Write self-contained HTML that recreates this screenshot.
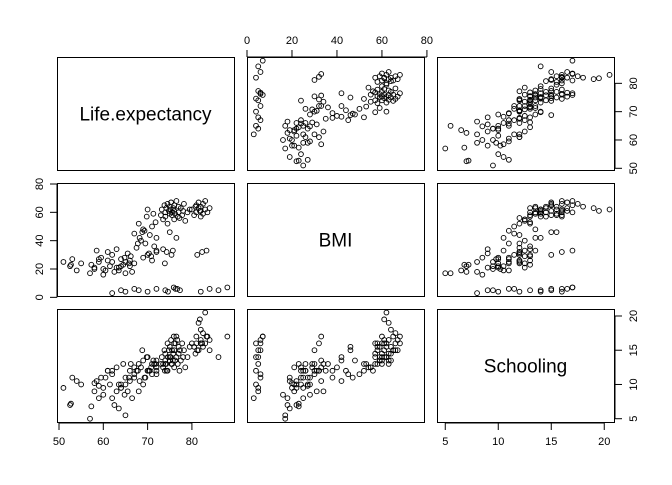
<!DOCTYPE html>
<html><head><meta charset="utf-8"><style>
html,body{margin:0;padding:0;background:#fff;}
svg text{font-family:"Liberation Sans",sans-serif;fill:#000;}
</style></head><body>
<svg id="chart" width="672" height="480" viewBox="0 0 672 480" xmlns="http://www.w3.org/2000/svg"></svg>
<script>
const varNames = ["Life.expectancy","BMI","Schooling"];
const lifeTicks = [50,60,70,80];
const bmiTicks = [0,20,40,60,80];
const schoolTicks = [5,10,15,20];
const life = [51,52.5,53,54,55,57,58,58.5,59,59.5,60,60,61,61.5,62,62.5,63,63,63.5,64,64.5,65,65,65.5,66,66,66.5,67,52.7,58,59,60.5,62,63.5,64.8,57.3,61,64,65.8,66.2,
67,67.5,68,68.5,69,69,69.5,70,70,70.5,71,71,71.5,72,72,68.2,69.8,70.8,71.8,67.8,68.8,69.3,70.3,71.3,72,
73,73.2,73.5,73.8,74,74,74.2,74.5,74.5,74.8,75,75,75,75.2,75.3,75.5,75.5,75.8,76,76,76,76.2,76.5,76.5,76.8,77,77,77.2,77.5,77.8,78,78.2,78.5,79,79.5,73.5,74.3,75.7,76.3,77.3,74.6,75.9,76.7,73.9,75.4,
80,80.5,81,81,81.5,81.5,82,82,82,82.5,82.5,83,83,83.5,84,81.2,82.3,80.8,83.3,81.8,
62,64,65,67,68,70,72,74,82,84,86,88];
const bmi = [25,22,27,19,24,17,21,33,25,28,20,16,26,22,30,18,34,21,19,27,23,17,25,31,26,22,18,24,23,20,27,19,25,21,28,23,32,22,24,29,
45,35,52,40,28,48,38,62,30,44,26,50,36,42,33,42,57,29,53,38,46,47,31,59,32,
58,62,55,65,60,57,63,66,52,61,59,64,46,62,67,60,58,63,61,55,65,59,42,68,57,60,64,56,63,58,61,66,54,60,62,34,32,33,6,5,4,7,6,24,30,
62,58,65,60,63,67,61,64,57,66,59,62,68,60,63,30,32,64,33,61,
3,5,4,6,5,4,6,5,4,6,5,7];
const school = [9.5,7,11,10.5,10,5,9,10.5,8,11,9.5,8.5,12,10,11.5,7,9,12.5,6.5,10,13,5.5,11,9,12,10.5,8,12.5,7.2,10.2,9.8,11,12,10,8.5,6.8,12,9.5,11,13,
11.5,12,13,12.5,10,13.5,11,14,12,12,13,11.5,13,13.5,12.5,10.5,14,12.5,13,12,15,11,12,13.5,12,
13,14,12.5,15,13.5,14.5,13,16,12,15,14,13.5,15.5,14,16.5,13,15,14.5,16,12.5,15,13.5,14,17,13,14.5,15.5,12,13.5,16,14,15,12.5,14,15.5,13,12,13.5,16,15,14,17,16.5,12,13,
16,15.5,17,16,19,15,16.5,18,16,17.5,15.5,20.5,16,17,16.5,15,16,14.5,17,19.5,
8,9.5,10,11,9,12,11.5,13,16,15,14,17];

const data = [life,bmi,school];
const xDom = [[49.55,89.5],[0,78.7],[4.22,20.92]];
const yDom = [[49.4,89.3],[0.95,80.7],[4.52,21.02]];
const colX = [57,247,437], rowY = [57,183,309], PW = 177, PH = 113;
const NS = "http://www.w3.org/2000/svg";
const svg = document.getElementById('chart');
function mk(tag, attrs, parent){const e=document.createElementNS(NS,tag);for(const k in attrs)e.setAttribute(k,attrs[k]);(parent||svg).appendChild(e);return e;}
function sx(j,v){return colX[j]+(v-xDom[j][0])/(xDom[j][1]-xDom[j][0])*PW;}
function sy(i,v){return rowY[i]+PH-(v-yDom[i][0])/(yDom[i][1]-yDom[i][0])*PH;}

for(let i=0;i<3;i++){for(let j=0;j<3;j++){
  const g=mk('g',{});
  
  
  const r=mk('rect',{x:colX[j]+0.5,y:rowY[i]+0.5,width:PW,height:PH,fill:'none',stroke:'#000','stroke-width':1},g);
  
  
  if(i===j){
    const t=mk('text',{x:colX[j]+PW/2,y:rowY[i]+PH/2+7,'text-anchor':'middle','font-size':19},g);
    t.textContent=varNames[i];
    
    
  } else {
    const xs=data[j], ys=data[i];
    for(let k=0;k<xs.length;k++){
      const c=mk('circle',{cx:sx(j,xs[k]),cy:sy(i,ys[k]),r:2.4,fill:'none',stroke:'#000','stroke-width':0.9},g);
      
      
    }
  }
}}
function xAxis(j, ticks, side){
  const g=mk('g',{});
  
  
  const y0 = side==='top'? rowY[0] : rowY[2]+PH+1;
  const d = side==='top'? -7 : 7;
  mk('line',{x1:sx(j,ticks[0]),x2:sx(j,ticks[ticks.length-1]),y1:y0,y2:y0,stroke:'#000'},g);
  ticks.forEach(t=>{
    const x=sx(j,t);
    mk('line',{x1:x,x2:x,y1:y0,y2:y0+d,stroke:'#000'},g);
    const tx=mk('text',{x:x,y:side==='top'?y0-13:y0+22,'text-anchor':'middle','font-size':11},g);
    tx.textContent=t;
    
    
  });
}
function yAxis(i, ticks, side){
  const g=mk('g',{});
  
  
  const x0 = side==='left'? colX[0] : colX[2]+PW+1;
  const d = side==='left'? -7 : 7;
  mk('line',{x1:x0,x2:x0,y1:sy(i,ticks[0]),y2:sy(i,ticks[ticks.length-1]),stroke:'#000'},g);
  ticks.forEach(t=>{
    const y=sy(i,t);
    mk('line',{x1:x0,x2:x0+d,y1:y,y2:y,stroke:'#000'},g);
    const lx = side==='left'? x0-14 : x0+22;
    const tx=mk('text',{x:lx,y:y,'text-anchor':'middle','font-size':11,transform:'rotate(-90 '+lx+' '+y+')'},g);
    tx.textContent=t;
    
    
  });
}
xAxis(1,bmiTicks,'top');
xAxis(0,lifeTicks,'bottom');
xAxis(2,schoolTicks,'bottom');
yAxis(0,lifeTicks,'right');
yAxis(1,bmiTicks,'left');
yAxis(2,schoolTicks,'right');
</script>
</body></html>
